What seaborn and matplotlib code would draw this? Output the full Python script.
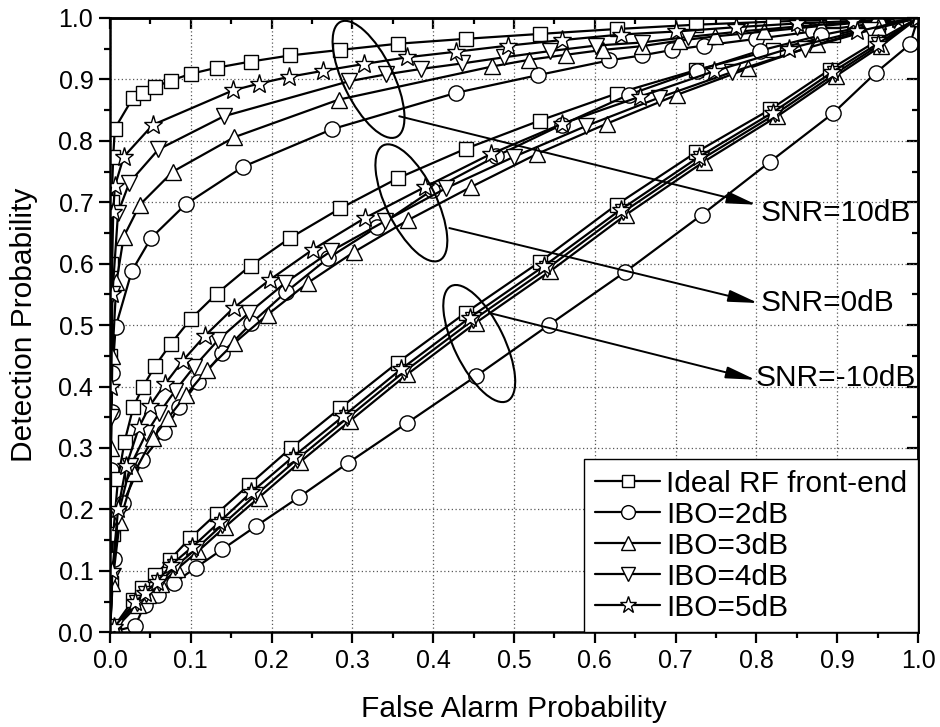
import numpy as np
import matplotlib
matplotlib.use("Agg")
import matplotlib.pyplot as plt
import matplotlib.transforms as mtransforms
from matplotlib.patches import Ellipse
from matplotlib.ticker import MultipleLocator
import seaborn as sns

# ---------------- data ----------------
series_labels = ["Ideal RF front-end", "IBO=2dB", "IBO=3dB", "IBO=4dB", "IBO=5dB"]
series_markers = ["s", "o", "^", "v", "*"]

# SNR = 10 dB
ideal_10_x = [0.0, 0.0005, 0.001, 0.002, 0.004, 0.006, 0.028, 0.041, 0.056, 0.075, 0.100, 0.132, 0.174,
              0.223, 0.285, 0.356, 0.440, 0.532, 0.627, 0.725, 0.820, 0.895, 0.950, 1.0]
ideal_10_y = [0.0, 0.45, 0.60, 0.70, 0.774, 0.820, 0.869, 0.878, 0.888, 0.898, 0.909, 0.919, 0.929,
              0.939, 0.948, 0.958, 0.966, 0.974, 0.982, 0.989, 0.994, 0.997, 0.999, 1.0]
ibo2_10_x = [0.0, 0.001, 0.002, 0.003, 0.007, 0.027, 0.051, 0.094, 0.165, 0.275, 0.428, 0.530, 0.618,
             0.658, 0.696, 0.735, 0.800, 0.870, 0.940, 1.0]
ibo2_10_y = [0.0, 0.264, 0.359, 0.422, 0.497, 0.588, 0.642, 0.697, 0.758, 0.819, 0.878, 0.907, 0.931,
             0.939, 0.948, 0.955, 0.966, 0.978, 0.990, 1.0]
ibo3_10_x = [0.0, 0.001, 0.003, 0.008, 0.017, 0.037, 0.078, 0.154, 0.283, 0.473, 0.519, 0.564, 0.610,
             0.658, 0.704, 0.749, 0.810, 0.880, 0.950, 1.0]
ibo3_10_y = [0.0, 0.30, 0.45, 0.57, 0.644, 0.696, 0.750, 0.806, 0.867, 0.921, 0.932, 0.940, 0.948,
             0.954, 0.963, 0.970, 0.978, 0.987, 0.995, 1.0]
ibo4_10_x = [0.0, 0.001, 0.003, 0.010, 0.024, 0.060, 0.141, 0.296, 0.341, 0.385, 0.436, 0.488, 0.544,
             0.601, 0.658, 0.715, 0.780, 0.850, 0.920, 0.970, 1.0]
ibo4_10_y = [0.0, 0.35, 0.55, 0.683, 0.732, 0.786, 0.840, 0.897, 0.908, 0.917, 0.926, 0.936, 0.946,
             0.955, 0.960, 0.969, 0.978, 0.986, 0.993, 0.997, 1.0]
ibo5_10_x = [0.0, 0.001, 0.002, 0.004, 0.006, 0.017, 0.053, 0.152, 0.184, 0.221, 0.264, 0.314, 0.368,
             0.428, 0.493, 0.560, 0.632, 0.701, 0.775, 0.850, 0.920, 0.975, 1.0]
ibo5_10_y = [0.0, 0.40, 0.55, 0.684, 0.726, 0.774, 0.826, 0.882, 0.893, 0.904, 0.914, 0.925, 0.936,
             0.945, 0.955, 0.964, 0.973, 0.978, 0.985, 0.991, 0.995, 0.998, 1.0]

# SNR = 0 dB
ideal_0_x = [0.0, 0.001, 0.004, 0.010, 0.018, 0.029, 0.041, 0.056, 0.075, 0.100, 0.132, 0.174, 0.223,
             0.285, 0.356, 0.440, 0.532, 0.627, 0.725, 0.820, 0.895, 0.950, 1.0]
ideal_0_y = [0.0, 0.08, 0.16, 0.25, 0.31, 0.367, 0.400, 0.434, 0.469, 0.510, 0.551, 0.597, 0.642,
             0.690, 0.739, 0.787, 0.833, 0.877, 0.915, 0.948, 0.972, 0.988, 1.0]
ibo2_0_x = [0.0, 0.005, 0.016, 0.040, 0.067, 0.085, 0.109, 0.139, 0.175, 0.218, 0.270, 0.331, 0.399,
            0.478, 0.559, 0.642, 0.726, 0.805, 0.880, 0.950, 1.0]
ibo2_0_y = [0.0, 0.12, 0.21, 0.28, 0.326, 0.367, 0.407, 0.455, 0.503, 0.554, 0.609, 0.660, 0.720,
            0.775, 0.826, 0.875, 0.914, 0.947, 0.972, 0.990, 1.0]
ibo3_0_x = [0.0, 0.003, 0.012, 0.030, 0.053, 0.072, 0.094, 0.120, 0.154, 0.195, 0.245, 0.302, 0.369,
            0.447, 0.529, 0.615, 0.702, 0.790, 0.875, 0.950, 1.0]
ibo3_0_y = [0.0, 0.08, 0.18, 0.26, 0.316, 0.349, 0.386, 0.427, 0.471, 0.517, 0.569, 0.619, 0.671,
            0.725, 0.779, 0.828, 0.875, 0.918, 0.957, 0.985, 1.0]
ibo4_0_x = [0.0, 0.003, 0.010, 0.025, 0.045, 0.061, 0.080, 0.104, 0.134, 0.172, 0.217, 0.273, 0.340,
            0.416, 0.500, 0.589, 0.679, 0.770, 0.860, 0.940, 1.0]
ibo4_0_y = [0.0, 0.09, 0.19, 0.27, 0.324, 0.357, 0.392, 0.432, 0.476, 0.520, 0.569, 0.620, 0.669,
            0.723, 0.774, 0.824, 0.870, 0.912, 0.950, 0.980, 1.0]
ibo5_0_x = [0.0, 0.003, 0.010, 0.020, 0.036, 0.049, 0.068, 0.090, 0.117, 0.153, 0.198, 0.251, 0.315,
            0.390, 0.472, 0.560, 0.656, 0.747, 0.840, 0.925, 1.0]
ibo5_0_y = [0.0, 0.10, 0.20, 0.27, 0.334, 0.368, 0.404, 0.442, 0.482, 0.528, 0.574, 0.623, 0.674,
            0.725, 0.779, 0.828, 0.872, 0.913, 0.950, 0.978, 1.0]

# SNR = -10 dB
ideal_m10_x = [0.0, 0.005, 0.029, 0.040, 0.056, 0.074, 0.099, 0.132, 0.172, 0.224, 0.285, 0.356, 0.440,
               0.532, 0.627, 0.725, 0.817, 0.891, 0.947, 1.0]
ideal_m10_y = [0.0, 0.009, 0.053, 0.072, 0.093, 0.118, 0.153, 0.193, 0.240, 0.300, 0.365, 0.439, 0.520,
               0.603, 0.696, 0.781, 0.851, 0.916, 0.961, 1.0]
ibo2_m10_x = [0.0, 0.031, 0.043, 0.060, 0.079, 0.106, 0.139, 0.181, 0.234, 0.295, 0.368, 0.453, 0.543,
              0.638, 0.733, 0.817, 0.895, 0.948, 0.990, 1.0]
ibo2_m10_y = [0.0, 0.010, 0.045, 0.061, 0.080, 0.105, 0.135, 0.173, 0.220, 0.276, 0.341, 0.417, 0.500,
              0.587, 0.680, 0.766, 0.845, 0.911, 0.957, 1.0]
ibo3_m10_x = [0.0, 0.007, 0.035, 0.047, 0.063, 0.083, 0.109, 0.142, 0.184, 0.235, 0.297, 0.368, 0.453,
              0.545, 0.639, 0.735, 0.826, 0.899, 0.954, 1.0]
ibo3_m10_y = [0.0, 0.007, 0.045, 0.060, 0.078, 0.103, 0.132, 0.171, 0.219, 0.277, 0.344, 0.420, 0.504,
              0.588, 0.680, 0.766, 0.840, 0.906, 0.954, 1.0]
ibo4_m10_x = [0.0, 0.006, 0.033, 0.045, 0.061, 0.080, 0.106, 0.139, 0.180, 0.231, 0.293, 0.364, 0.449,
              0.541, 0.635, 0.732, 0.823, 0.897, 0.952, 1.0]
ibo4_m10_y = [0.0, 0.008, 0.047, 0.062, 0.080, 0.106, 0.135, 0.175, 0.223, 0.281, 0.348, 0.424, 0.508,
              0.592, 0.684, 0.770, 0.843, 0.909, 0.956, 1.0]
ibo5_m10_x = [0.0, 0.005, 0.031, 0.043, 0.058, 0.076, 0.102, 0.135, 0.175, 0.226, 0.289, 0.360, 0.445,
              0.537, 0.632, 0.729, 0.820, 0.894, 0.950, 1.0]
ibo5_m10_y = [0.0, 0.008, 0.049, 0.064, 0.082, 0.110, 0.139, 0.179, 0.228, 0.285, 0.352, 0.428, 0.512,
              0.596, 0.688, 0.774, 0.846, 0.912, 0.958, 1.0]

groups = [
    [(ideal_10_x, ideal_10_y), (ibo2_10_x, ibo2_10_y), (ibo3_10_x, ibo3_10_y),
     (ibo4_10_x, ibo4_10_y), (ibo5_10_x, ibo5_10_y)],
    [(ideal_0_x, ideal_0_y), (ibo2_0_x, ibo2_0_y), (ibo3_0_x, ibo3_0_y),
     (ibo4_0_x, ibo4_0_y), (ibo5_0_x, ibo5_0_y)],
    [(ideal_m10_x, ideal_m10_y), (ibo2_m10_x, ibo2_m10_y), (ibo3_m10_x, ibo3_m10_y),
     (ibo4_m10_x, ibo4_m10_y), (ibo5_m10_x, ibo5_m10_y)],
]

snr_labels = ["SNR=10dB", "SNR=0dB", "SNR=-10dB"]
ellipse_centers = [(0.320, 0.900), (0.373, 0.699), (0.457, 0.470)]
arrow_starts = [(0.358, 0.840), (0.420, 0.658), (0.469, 0.520)]
arrow_ends = [(0.800, 0.696), (0.802, 0.536), (0.799, 0.411)]
text_pos = [(0.805, 0.683), (0.805, 0.536), (0.799, 0.414)]

# ---------------- style ----------------
sns.set_style("ticks")
plt.rcParams["font.family"] = ["Liberation Sans", "DejaVu Sans"]
plt.rcParams.update({
    "text.color": "black",
    "axes.labelcolor": "black",
    "xtick.color": "black",
    "ytick.color": "black",
    "axes.edgecolor": "black",
})

fig = plt.figure(figsize=(9.4, 7.27), dpi=100)
ax = fig.add_axes([0.1170, 0.1303, 0.8596, 0.8450])

marker_sizes = {"s": 10, "o": 11, "^": 11, "v": 11, "*": 14}
legend_handles = []
for gi, group in enumerate(groups):
    for (xs, ys), mk in zip(group, series_markers):
        sns.lineplot(x=xs, y=ys, ax=ax, color="black", linewidth=1.6, marker=mk,
                     markersize=marker_sizes[mk], markerfacecolor="white",
                     markeredgecolor="black", markeredgewidth=1.0,
                     sort=False, estimator=None, legend=False)
        if gi == 0:
            legend_handles.append(ax.lines[-1])

# ellipses and arrows
for (cx, cy), (sx, sy), (ex, ey), (tx, ty), lab in zip(ellipse_centers, arrow_starts,
                                                        arrow_ends, text_pos, snr_labels):
    trans = fig.dpi_scale_trans + mtransforms.ScaledTranslation(cx, cy, ax.transData)
    ax.add_patch(Ellipse((0, 0), width=1.28, height=0.50, angle=-64, transform=trans,
                         fill=False, edgecolor="black", linewidth=1.5, zorder=5))
    ax.annotate("", xy=(ex, ey), xytext=(sx, sy),
                arrowprops=dict(arrowstyle="-|>,head_length=1.0,head_width=0.2", color="black",
                                lw=1.4, mutation_scale=18, shrinkA=0, shrinkB=0))
    ax.text(tx, ty, lab, ha="left", va="center", fontsize=21.5, color="black", zorder=6)

ax.set_xlim(0, 1.0)
ax.set_ylim(0, 1.0)
ax.xaxis.set_major_locator(MultipleLocator(0.1))
ax.yaxis.set_major_locator(MultipleLocator(0.1))
ax.xaxis.set_minor_locator(MultipleLocator(0.05))
ax.yaxis.set_minor_locator(MultipleLocator(0.05))
ax.xaxis.set_major_formatter(lambda v, p: f"{v:.1f}")
ax.yaxis.set_major_formatter(lambda v, p: f"{v:.1f}")
ax.tick_params(which="major", direction="out", length=8, width=1.6, labelsize=18, pad=4,
               colors="black")
ax.tick_params(which="minor", direction="out", length=4.5, width=1.6, colors="black")
ax.grid(True, which="major", linestyle=(0, (1, 2)), color="0.35", linewidth=0.9)
ax.set_axisbelow(True)
for sp in ax.spines.values():
    sp.set_linewidth(1.8)
    sp.set_color("black")

# inward ticks on top and right
for sec in (ax.secondary_xaxis("top"), ax.secondary_yaxis("right")):
    sec.xaxis.set_major_locator(MultipleLocator(0.1))
    sec.yaxis.set_major_locator(MultipleLocator(0.1))
    sec.xaxis.set_minor_locator(MultipleLocator(0.05))
    sec.yaxis.set_minor_locator(MultipleLocator(0.05))
    sec.tick_params(which="major", direction="in", length=8, width=1.6, colors="black",
                    labeltop=False, labelright=False, labelbottom=False, labelleft=False)
    sec.tick_params(which="minor", direction="in", length=4.5, width=1.6, colors="black")
    for sp in sec.spines.values():
        sp.set_linewidth(1.8)
        sp.set_color("black")

ax.set_xlabel("False Alarm Probability", fontsize=21.5, labelpad=16)
ax.set_ylabel("Detection Probability", fontsize=21.5, labelpad=15)

leg = ax.legend(legend_handles, series_labels, loc="lower right", bbox_to_anchor=(1.0, 0.0),
                borderaxespad=0, frameon=True, fancybox=False, edgecolor="black",
                framealpha=1, fontsize=21.5, handlelength=2.2, handletextpad=0.2,
                labelspacing=0.1, borderpad=0.35, markerscale=0.9)
leg.get_frame().set_linewidth(1.0)
leg.set_zorder(10)
for t in leg.get_texts():
    t.set_color("black")

fig.savefig("out.png", dpi=100)
